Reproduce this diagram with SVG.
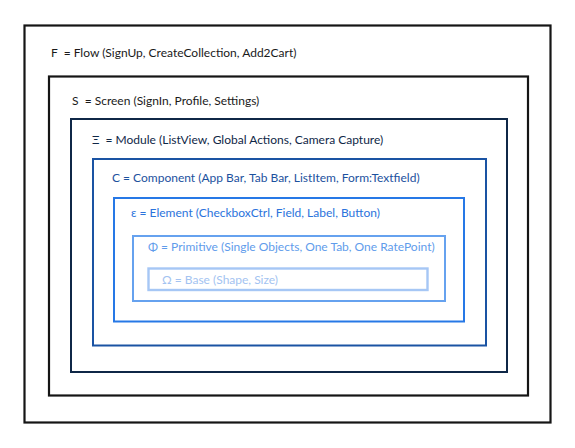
<svg xmlns="http://www.w3.org/2000/svg" width="575" height="448" viewBox="0 0 575 448">
<style>
  rect { fill: none; stroke-width: 2; }
  text { font-family: Lato, "Open Sans", "Liberation Sans", sans-serif; font-size: 12px; white-space: pre; }
  .l1 rect { stroke: #151515; stroke-width: 2.2; }
  .l1 text { fill: #1a1a1a; }
  .l2 rect { stroke: #151515; stroke-width: 2.2; }
  .l2 text { fill: #1a1a1a; }
  .l3 rect { stroke: #0f2747; }
  .l3 text { fill: #0f2747; }
  .l4 rect { stroke: #1a53a3; }
  .l4 text { fill: #1c519e; }
  .l5 rect { stroke: #2678e6; }
  .l5 text { fill: #2b73dc; }
  .l6 rect { stroke: #66a2ef; }
  .l6 text { fill: #5f9ceb; }
  .l7 rect { stroke: #a6c7f5; stroke-width: 2.4; }
  .l7 text { fill: #a3c3f1; }
</style>
<rect x="0" y="0" width="575" height="448" fill="#ffffff" stroke="none"/>
<g id="flow" class="l1">
  <rect x="24.5" y="25.5" width="526" height="397"/>
  <text x="51" y="57">F  = Flow (SignUp, CreateCollection, Add2Cart)</text>
</g>
<g id="screen" class="l2">
  <rect x="49" y="76.5" width="479" height="319"/>
  <text x="72" y="105">S  = Screen (SignIn, Profile, Settings)</text>
</g>
<g id="module" class="l3">
  <rect x="71" y="119" width="436" height="253"/>
  <text x="92" y="144">Ξ  = Module (ListView, Global Actions, Camera Capture)</text>
</g>
<g id="component" class="l4">
  <rect x="93" y="159" width="393" height="186.5"/>
  <text x="112" y="182">C = Component (App Bar, Tab Bar, ListItem, Form:Textfield)</text>
</g>
<g id="element" class="l5">
  <rect x="114" y="198" width="350" height="123.5"/>
  <text x="131" y="217">ε = Element (CheckboxCtrl, Field, Label, Button)</text>
</g>
<g id="primitive" class="l6">
  <rect x="133" y="236" width="312" height="65"/>
  <text x="148" y="251">Φ = Primitive (Single Objects, One Tab, One RatePoint)</text>
</g>
<g id="base" class="l7">
  <rect x="148.5" y="268.5" width="279" height="21.5"/>
  <text x="162" y="284">Ω = Base (Shape, Size)</text>
</g>
<g id="connectors"></g>
</svg>
